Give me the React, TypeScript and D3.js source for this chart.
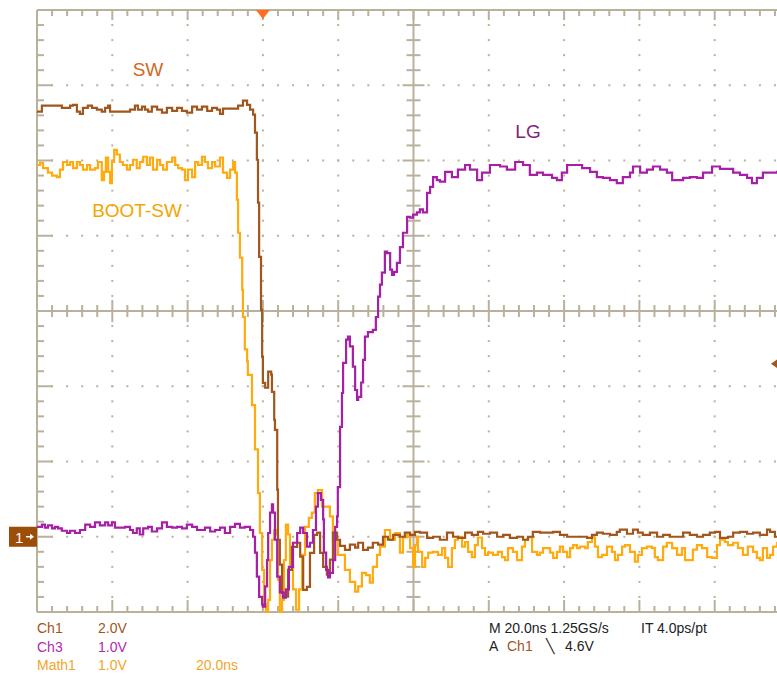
import React from 'react';
import * as d3 from 'd3';

type Pt = [number, number];

// Time axis in ns, values in volts
const SW_CH1: Pt[] = [
  [-100, 11.30], [-98.7, 11.46], [-93.9, 11.46], [-93.4, 11.40], [-92.0, 11.40], [-91.2, 11.46], [-90.4, 11.48], [-89.4, 11.30], [-88.6, 11.24], [-87.8, 11.40], [-86.5, 11.46], [-85.4, 11.40], [-84.1, 11.35], [-82.8, 11.30], [-81.9, 11.40], [-81.1, 11.46], [-80.6, 11.30], [-79.3, 11.30], [-77.2, 11.30], [-75.3, 11.35], [-74.0, 11.46], [-73.2, 11.35], [-72.1, 11.43], [-71.3, 11.35], [-70.5, 11.30], [-69.5, 11.43], [-68.1, 11.35], [-66.8, 11.27], [-65.5, 11.40], [-64.1, 11.32], [-62.8, 11.40], [-61.5, 11.32], [-60.2, 11.27], [-58.8, 11.43], [-57.5, 11.35], [-56.2, 11.43], [-54.8, 11.32], [-53.5, 11.40], [-52.2, 11.35], [-51.4, 11.24], [-50.6, 11.38], [-48.7, 11.38], [-47.4, 11.38], [-46.6, 11.46], [-45.3, 11.59], [-44.2, 11.48], [-43.4, 11.35], [-42.6, 11.22],
  [-42.1, 10.74], [-41.6, 10.02], [-41.3, 8.88], [-41.0, 7.44], [-40.5, 6.03], [-40.2, 4.78], [-40.0, 4.09], [-39.4, 3.96], [-38.6, 4.39], [-37.8, 4.31], [-37.6, 3.85], [-37.0, 3.11], [-36.8, 2.84], [-36.2, 1.25], [-36.0, -0.08], [-35.5, -0.74], [-34.9, -1.49], [-34.1, -1.59], [-33.3, -0.88], [-32.3, -0.27], [-30.9, -0.16], [-30.1, -0.53], [-29.3, -1.41], [-28.3, -1.33], [-27.5, -0.43], [-26.4, 0.05], [-25.6, 0.11], [-24.8, -0.43], [-24.0, -0.80], [-23.0, -1.01], [-22.2, -0.61], [-21.4, 0.11], [-20.3, -0.08], [-19.5, -0.24], [-18.2, -0.35], [-16.9, -0.21], [-15.5, -0.29], [-14.7, -0.16], [-13.4, -0.35], [-12.1, -0.29], [-10.8, -0.16], [-9.4, -0.21], [-8.1, 0], [-6.8, -0.08], [-5.4, 0.05], [-3.6, 0],
  [-2.3, 0.11], [-0.9, 0.05], [0.4, 0.13], [1.7, 0.11], [3.6, -0.03], [5.2, 0], [7.0, -0.08], [8.9, 0.11], [10.5, 0], [11.8, -0.03], [13.7, 0.11], [15.5, 0.05], [17.1, 0.13], [18.5, 0.08], [20.3, 0.11], [22.2, 0], [23.8, 0.05], [25.6, -0.03], [27.5, 0], [29.1, -0.08], [30.4, 0], [31.7, 0.13], [33.6, 0.11], [35.5, 0.11], [37.1, 0.13], [38.9, 0.05], [40.8, 0], [44.2, 0], [46.1, -0.03], [47.4, 0.05], [48.7, 0.11], [50.3, 0.08], [52.2, 0.05], [54.0, 0.13], [54.8, 0.19], [56.7, 0.08], [58.3, 0.19], [59.6, 0.11], [60.9, 0.05], [62.8, 0.11], [64.7, 0], [66.3, 0.05], [68.1, 0], [70.0, 0], [71.6, 0.11], [73.4, 0.05], [75.3, 0], [76.9, 0.05], [78.7, 0.11], [80.1, 0.13], [81.4, -0.03], [83.5, 0], [84.9, 0.11], [86.7, 0.13], [88.6, 0.08], [90.2, 0.11], [92.0, 0.05], [93.9, 0.19], [94.7, 0.13], [96.0, 0], [100, 0.05],
];

const BOOT_SW_MATH1: Pt[] = [
  [-100, 4.94], [-99.2, 4.97], [-98.4, 4.90], [-97.1, 4.84], [-96.0, 4.80], [-94.7, 4.78], [-93.9, 4.88], [-93.1, 4.98], [-92.0, 4.94], [-91.2, 4.98], [-90.4, 4.90], [-89.4, 4.98], [-88.6, 4.94], [-87.8, 4.88], [-86.7, 4.94], [-85.9, 4.88], [-84.6, 4.90], [-83.8, 4.98], [-82.8, 4.74], [-82.2, 4.85], [-81.7, 5.04], [-81.1, 4.85], [-80.6, 4.70], [-80.1, 4.98], [-79.5, 5.14], [-78.8, 5.08], [-78.0, 4.98], [-77.2, 4.94], [-76.1, 4.88], [-75.3, 4.94], [-74.5, 5.01], [-73.5, 4.90], [-72.7, 4.98], [-71.8, 5.05], [-70.8, 4.94], [-70.0, 5.04], [-69.2, 4.88], [-68.1, 5.01], [-67.3, 4.94], [-66.5, 4.88], [-65.5, 4.98], [-64.1, 5.04], [-63.3, 4.94], [-62.5, 4.90], [-61.5, 4.88], [-60.7, 4.74], [-59.9, 4.88], [-58.8, 4.78], [-58.0, 4.98], [-57.2, 4.94], [-56.2, 5.05], [-55.4, 4.98], [-54.6, 4.90], [-53.5, 4.98], [-52.7, 4.92], [-51.4, 5.04], [-50.6, 4.84], [-49.5, 4.77], [-48.7, 4.88], [-47.9, 4.98], [-47.4, 4.84],
  [-46.9, 4.48], [-46.6, 4.04], [-46.1, 3.71], [-45.5, 3.28], [-45.3, 2.92], [-44.8, 2.49], [-44.2, 2.33], [-44.0, 2.15], [-42.9, 1.75], [-42.1, 1.16], [-41.3, 0.58], [-40.8, 0.05], [-40.2, -0.44], [-39.7, -0.90], [-39.2, -1.00], [-38.6, -0.84], [-38.1, -0.31], [-37.6, -0.04], [-37.0, 0.09], [-36.5, 0.03], [-36.0, -0.57], [-35.5, -1.00], [-34.9, -0.84], [-34.4, -0.31], [-33.9, 0.16], [-33.3, 0.03], [-32.8, -0.37], [-32.0, -0.70], [-31.2, -0.97], [-30.4, -0.70], [-29.6, -0.24], [-28.8, 0.13], [-27.8, 0.25], [-27.0, 0.32], [-26.2, 0.58], [-25.4, 0.62], [-24.3, 0.40], [-23.0, 0.40], [-22.2, 0.27], [-21.4, -0.04], [-20.1, -0.24], [-18.2, -0.44], [-16.9, -0.60], [-15.5, -0.73], [-14.7, -0.66], [-13.7, -0.48], [-12.6, -0.51], [-11.6, -0.61], [-10.8, -0.40], [-9.7, -0.24], [-8.9, -0.13], [-7.6, 0.09], [-6.2, -0.04], [-4.9, 0.05], [-3.6, -0.21],
  [-2.8, -0.01], [-1.7, 0.03], [-0.9, -0.15], [-0.1, -0.40], [0.4, -0.11], [0.9, 0], [1.2, -0.20], [2.3, -0.40], [3.1, -0.28], [3.9, -0.21], [5.2, -0.20], [6.5, -0.24], [7.6, -0.15], [8.4, -0.28], [9.2, -0.40], [10.2, -0.15], [11.0, -0.04], [11.8, 0], [12.9, -0.13], [13.7, -0.07], [14.5, -0.20], [15.5, -0.27], [16.3, -0.11], [17.1, -0.01], [18.2, -0.15], [19.0, -0.24], [19.8, -0.21], [21.1, -0.24], [22.4, -0.20], [23.5, -0.27], [24.3, -0.31], [25.1, -0.15], [26.4, -0.20], [27.5, -0.31], [28.8, -0.13], [29.6, -0.04], [30.4, -0.01], [31.5, -0.20], [32.8, -0.24], [33.6, -0.21], [34.4, -0.15], [35.5, -0.15], [36.3, -0.21], [37.1, -0.28], [38.1, -0.20], [38.9, -0.13], [39.7, -0.20], [40.8, -0.27], [41.6, -0.15], [42.4, -0.11], [43.4, -0.15], [44.2, -0.13], [45.6, -0.15], [46.3, -0.07], [47.4, -0.01], [48.2, -0.13], [49.0, -0.27], [50.1, -0.24], [51.4, -0.13], [52.7, -0.20], [53.5, -0.31], [54.3, -0.24], [55.4, -0.13], [56.2, -0.11], [57.5, -0.20], [58.8, -0.33], [59.6, -0.24], [60.7, -0.15], [62.0, -0.13], [63.3, -0.15], [64.1, -0.27], [64.9, -0.31], [66.3, -0.13], [67.3, -0.08], [68.7, -0.15], [70.0, -0.24], [71.3, -0.15], [72.1, -0.31], [72.9, -0.31], [74.2, -0.17], [75.3, -0.11], [76.6, -0.15], [78.0, -0.27], [79.3, -0.28], [80.6, -0.11], [81.4, -0.04], [82.7, -0.07], [83.5, -0.11], [84.9, -0.08], [86.2, -0.15], [87.5, -0.24], [88.8, -0.13], [90.2, -0.20], [91.2, -0.28], [92.0, -0.31], [92.8, -0.15], [93.9, -0.28], [94.7, -0.24], [95.5, -0.13], [96.6, -0.08], [100, -0.10],
];

const LG_CH3: Pt[] = [
  [-100, 0.13], [-98.7, 0.16], [-97.9, 0.12], [-97.1, 0.15], [-96.0, 0.11], [-95.2, 0.13], [-94.4, 0.11], [-93.4, 0.08], [-92.0, 0.05], [-91.2, 0.08], [-89.9, 0.05], [-88.6, 0.09], [-87.2, 0.16], [-85.9, 0.13], [-84.6, 0.19], [-83.3, 0.15], [-81.9, 0.19], [-81.1, 0.15], [-80.1, 0.19], [-79.3, 0.12], [-78.0, 0.12], [-76.6, 0.13], [-75.3, 0.09], [-74.5, 0.05], [-73.5, 0.11], [-72.7, 0.03], [-71.8, 0.11], [-70.5, 0.13], [-69.5, 0.07], [-68.1, 0.11], [-66.8, 0.19], [-65.5, 0.13], [-64.1, 0.12], [-62.8, 0.13], [-61.5, 0.11], [-60.2, 0.16], [-58.8, 0.13], [-57.5, 0.09], [-56.7, 0.09], [-55.4, 0.12], [-54.0, 0.07], [-52.7, 0.09], [-51.4, 0.12], [-50.1, 0.05], [-48.7, 0.13], [-47.4, 0.17], [-46.1, 0.12], [-44.8, 0.13], [-43.4, 0.09],
  [-42.6, 0], [-42.1, -0.21], [-41.6, -0.53], [-41.0, -0.80], [-40.2, -0.90], [-40.0, -0.93], [-39.4, -0.66], [-38.9, -0.31], [-38.6, 0.05], [-38.1, 0.32], [-37.6, 0.43], [-37.3, 0.32], [-36.8, -0.04], [-36.2, -0.53], [-35.5, -0.74], [-34.7, -0.81], [-33.9, -0.70], [-33.1, -0.40], [-32.0, -0.08], [-30.9, 0.05], [-30.1, 0.12], [-29.3, 0.05], [-28.3, -0.13], [-27.5, -0.08], [-26.7, 0.09], [-25.9, 0.40], [-25.4, 0.58], [-24.6, 0.49], [-24.0, 0.23], [-23.8, -0.21], [-23.2, -0.44], [-22.7, -0.54], [-22.2, -0.48], [-21.4, -0.31], [-20.8, 0.13], [-20.3, 0.27], [-20.1, 0.66], [-19.5, 1.46], [-19.0, 1.91], [-18.7, 2.31], [-17.9, 2.62], [-17.4, 2.66], [-16.9, 2.53], [-16.1, 2.26], [-15.5, 1.95], [-15.0, 1.82], [-14.7, 1.86], [-13.9, 2.05], [-13.4, 2.35], [-12.9, 2.66], [-12.1, 2.72], [-10.8, 2.75], [-10.0, 2.92], [-9.4, 3.19], [-8.9, 3.35], [-8.4, 3.51], [-7.6, 3.79], [-7.0, 3.77], [-6.2, 3.55], [-5.7, 3.48], [-5.2, 3.52], [-4.4, 3.64], [-3.6, 3.85], [-2.8, 4.04], [-1.7, 4.25], [-0.9, 4.24], [-0.1, 4.28], [0.9, 4.31], [1.7, 4.35], [2.5, 4.31], [3.6, 4.57], [4.4, 4.65], [5.2, 4.78], [6.2, 4.74], [7.0, 4.72], [8.4, 4.85], [10.2, 4.78], [11.8, 4.88], [13.7, 4.94], [15.0, 4.88], [16.9, 4.74], [18.2, 4.84], [20.3, 4.94], [23.0, 4.92], [24.8, 4.88], [27.0, 4.98], [29.1, 4.94], [30.9, 4.81], [32.8, 4.84], [34.4, 4.81], [36.8, 4.77], [38.1, 4.74], [39.4, 4.84], [40.8, 4.94], [42.4, 4.94], [44.8, 4.90], [46.9, 4.85], [48.7, 4.78], [50.3, 4.77], [52.2, 4.74], [54.0, 4.70], [55.6, 4.78], [57.5, 4.84], [58.3, 4.92], [60.2, 4.84], [62.0, 4.88], [63.6, 4.92], [65.5, 4.88], [67.3, 4.84], [68.7, 4.74], [70.0, 4.74], [71.6, 4.77], [73.4, 4.78], [75.3, 4.77], [76.9, 4.84], [79.3, 4.92], [81.4, 4.89], [83.3, 4.89], [84.9, 4.84], [86.7, 4.81], [88.6, 4.77], [89.9, 4.70], [91.2, 4.77], [92.8, 4.84], [94.7, 4.84], [96.6, 4.85], [100, 4.85],
];

// Scope settings
const TIME_PER_DIV = 20; // ns
const H_DIVS = 10;
const V_DIVS = 8;
const CH1_V_PER_DIV = 2;
const CH3_V_PER_DIV = 1;
const MATH1_V_PER_DIV = 1;
const GROUND_DIV = -3;
const TRIGGER_TIME = -40;
const TRIGGER_LEVEL = 4.6;

const LEFT_TEXT = [
  { label: 'Ch1', value: '2.0V', extra: '', color: '#a0561c' },
  { label: 'Ch3', value: '1.0V', extra: '', color: '#b02ab0' },
  { label: 'Math1', value: '1.0V', extra: '20.0ns', color: '#f2a52a' },
];

const GRID = '#b9b19b';
const FONT = 'Liberation Sans, Arial, sans-serif';

export default function App() {
  const W = 777;
  const H = 675;
  const half = (TIME_PER_DIV * H_DIVS) / 2;
  const x = d3.scaleLinear().domain([-half, half]).range([37, 790]);
  const y = d3.scaleLinear().domain([-V_DIVS / 2, V_DIVS / 2]).range([612, 10]);

  const line = (vdiv: number) =>
    d3
      .line<Pt>()
      .x((d) => x(d[0]))
      .y((d) => y(d[1] / vdiv + GROUND_DIV))
      .curve(d3.curveStepAfter);

  const minorT = d3.range(-half, half + 0.001, TIME_PER_DIV / 5);
  const majorT = d3.range(-half, half + 0.001, TIME_PER_DIV);
  const minorD = d3.range(-V_DIVS / 2, V_DIVS / 2 + 0.001, 0.2);
  const majorD = d3.range(-V_DIVS / 2, V_DIVS / 2 + 0.001, 1);
  const isMajorT = (t: number) => Math.abs(t / TIME_PER_DIV - Math.round(t / TIME_PER_DIV)) < 1e-6;
  const isMajorD = (d: number) => Math.abs(d - Math.round(d)) < 1e-6;

  const x0 = x(-half);
  const yTop = y(V_DIVS / 2);
  const yBot = y(-V_DIVS / 2);
  const xc = x(0);
  const yc = y(0);

  const dots: JSX.Element[] = [];
  majorT.forEach((t, i) => {
    if (Math.abs(t) < 1e-6 || i === 0) return;
    minorD.forEach((d, j) => {
      dots.push(<rect key={`v${i}-${j}`} x={x(t) - 1} y={y(d) - 1} width={2} height={2} fill={GRID} />);
    });
  });
  majorD.forEach((d, i) => {
    if (Math.abs(d) < 1e-6 || i === 0 || i === majorD.length - 1) return;
    minorT.forEach((t, j) => {
      dots.push(<rect key={`h${i}-${j}`} x={x(t) - 1} y={y(d) - 1} width={2} height={2} fill={GRID} />);
    });
  });

  const ticks: JSX.Element[] = [];
  minorT.forEach((t, i) => {
    const mj = isMajorT(t);
    const X = x(t);
    ticks.push(<line key={`tt${i}`} x1={X} x2={X} y1={yTop} y2={yTop + (mj ? 10 : 6)} />);
    ticks.push(<line key={`tb${i}`} x1={X} x2={X} y1={yBot} y2={yBot - (mj ? 12 : 6)} />);
    ticks.push(<line key={`tc${i}`} x1={X} x2={X} y1={yc - (mj ? 11 : 6)} y2={yc + (mj ? 11 : 6)} />);
  });
  minorD.forEach((d, i) => {
    const mj = isMajorD(d);
    const Y = y(d);
    ticks.push(<line key={`tl${i}`} x1={x0} x2={x0 + (mj ? 16 : 7)} y1={Y} y2={Y} />);
    ticks.push(<line key={`tv${i}`} x1={xc - (mj ? 11 : 7)} x2={xc + (mj ? 11 : 7)} y1={Y} y2={Y} />);
  });

  const trigX = x(TRIGGER_TIME);
  const trigY = y(TRIGGER_LEVEL / CH1_V_PER_DIV + GROUND_DIV);
  const gndY = y(GROUND_DIV);

  return (
    <svg
      width={W}
      height={H}
      style={{ position: 'absolute', left: 0, top: 0, background: '#fff' }}
      fontFamily={FONT}
    >
      <defs>
        <clipPath id="plot">
          <rect x={x0} y={yTop} width={x(half) - x0} height={yBot - yTop + 1} />
        </clipPath>
      </defs>
      <g>{dots}</g>
      <g stroke={GRID} strokeWidth={2}>
        {ticks}
        <line x1={x0} x2={x(half)} y1={yTop} y2={yTop} />
        <line x1={x0} x2={x(half)} y1={yBot} y2={yBot} />
        <line x1={x0} x2={x0} y1={yTop} y2={yBot} />
        <line x1={xc} x2={xc} y1={yTop} y2={yBot} />
        <line x1={x0} x2={x(half)} y1={yc} y2={yc} />
      </g>

      <g clipPath="url(#plot)" fill="none" strokeWidth={2.2} strokeLinejoin="miter">
        <path d={line(MATH1_V_PER_DIV)(BOOT_SW_MATH1) || ''} stroke="#ffab0f" />
        <path d={line(CH1_V_PER_DIV)(SW_CH1) || ''} stroke="#a0561c" />
        <path d={line(CH3_V_PER_DIV)(LG_CH3) || ''} stroke="#a61fa6" />
      </g>

      {/* trace labels */}
      <text x={148} y={76} fontSize={19} fill="#d0691f" textAnchor="middle">SW</text>
      <text x={528} y={138} fontSize={19} fill="#7e247e" textAnchor="middle">LG</text>
      <text x={137} y={217} fontSize={19} fill="#f2a600" textAnchor="middle">BOOT-SW</text>

      {/* trigger position marker */}
      <path d={`M${trigX - 7},${yTop} L${trigX + 7},${yTop} L${trigX},${yTop + 9} Z`} fill="#ff6d1f" />
      {/* trigger level marker */}
      <path d={`M${771},${trigY} L${778},${trigY - 5} L${778},${trigY + 5} Z`} fill="#a0561c" />
      {/* ground marker */}
      <rect x={9} y={gndY - 10} width={28} height={20} fill="#9c4d08" />
      <text x={15} y={gndY + 6} fontSize={15} fill="#fff">1</text>
      <path d={`M${26},${gndY} L${33},${gndY}`} stroke="#fff" strokeWidth={1.5} />
      <path d={`M${30},${gndY - 3} L${34},${gndY} L${30},${gndY + 3} Z`} fill="#fff" />

      {/* readouts */}
      {LEFT_TEXT.map((r, i) => (
        <g key={r.label} fontSize={14} fill={r.color}>
          <text x={37} y={633 + i * 18.5}>{r.label}</text>
          <text x={98} y={633 + i * 18.5}>{r.value}</text>
          {r.extra && <text x={196} y={633 + i * 18.5}>{r.extra}</text>}
        </g>
      ))}
      <g fontSize={14} fill="#222">
        <text x={489} y={633}>M 20.0ns 1.25GS/s</text>
        <text x={641} y={633}>IT 4.0ps/pt</text>
        <text x={489} y={651}>A</text>
        <text x={507} y={651} fill="#a0561c">Ch1</text>
        <text x={546} y={651}>{'\u2572'}</text>
        <text x={565} y={651}>4.6V</text>
      </g>
    </svg>
  );
}
